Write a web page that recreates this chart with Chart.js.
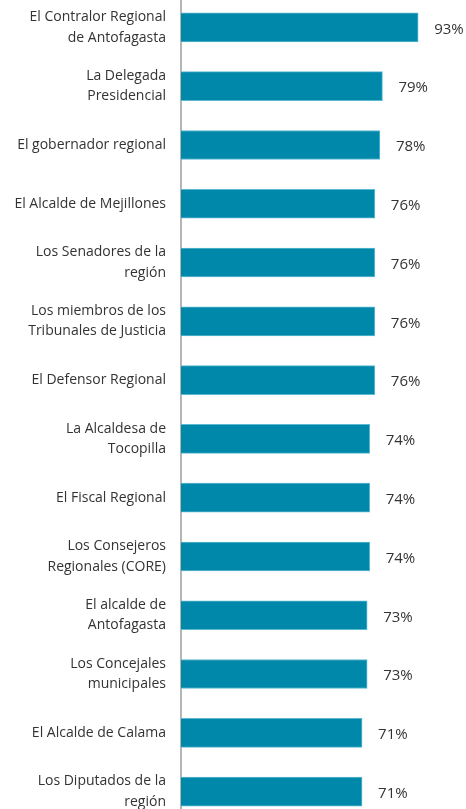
<!DOCTYPE html>
<html>
<head>
<meta charset="utf-8">
<script src="https://cdn.jsdelivr.net/npm/chart.js@4"></script>
<style>
  html, body { margin: 0; padding: 0; background: #fff; overflow: hidden; }
  #wrap { position: relative; width: 466px; height: 823px; margin-top: -2px; }
</style>
</head>
<body>
<div id="wrap"><canvas id="chart"></canvas></div>
<script>
// categorias (etiquetas en varias lineas)
const categories = [
  ["El Contralor Regional", "de Antofagasta"],
  ["La Delegada", "Presidencial"],
  "El gobernador regional",
  "El Alcalde de Mejillones",
  ["Los Senadores de la", "región"],
  ["Los miembros de los", "Tribunales de Justicia"],
  "El Defensor Regional",
  ["La Alcaldesa de", "Tocopilla"],
  "El Fiscal Regional",
  ["Los Consejeros", "Regionales (CORE)"],
  ["El alcalde de", "Antofagasta"],
  ["Los Concejales", "municipales"],
  "El Alcalde de Calama",
  ["Los Diputados de la", "región"]
];

// porcentajes
const values = [93, 79, 78, 76, 76, 76, 76, 74, 74, 74, 73, 73, 71, 71];

const fontFamily = "'Open Sans', 'DejaVu Sans', sans-serif";

// etiquetas de valor a la derecha de cada barra
const valueLabels = {
  id: "valueLabels",
  afterDatasetsDraw(chart) {
    const ctx = chart.ctx;
    const meta = chart.getDatasetMeta(0);
    ctx.save();
    ctx.fillStyle = "#333333";
    ctx.font = "15px " + fontFamily;
    ctx.textAlign = "left";
    ctx.textBaseline = "middle";
    meta.data.forEach((bar, i) => {
      ctx.fillText(values[i] + "%", bar.x + 16, bar.y + 2);
    });
    ctx.restore();
  }
};

new Chart(document.getElementById("chart"), {
  type: "bar",
  data: {
    labels: categories,
    datasets: [
      {
        data: values,
        backgroundColor: "#0088aa",
        borderColor: "#5cb9d2",
        borderWidth: 1,
        barThickness: 29
      }
    ]
  },
  options: {
    indexAxis: "y",
    responsive: true,
    maintainAspectRatio: false,
    animation: false,
    layout: { padding: { left: 0, right: 30, top: 0, bottom: 0 } },
    scales: {
      x: {
        display: false,
        min: 0,
        max: 100
      },
      y: {
        grid: { display: false, drawTicks: false },
        border: { display: true, color: "#b5b5b5", width: 2 },
        ticks: {
          color: "#333333",
          padding: 15,
          font: { family: fontFamily, size: 14, lineHeight: 1.45 }
        },
        afterFit(scale) {
          scale.width = 181;
          scale.paddingTop = 0;
          scale.paddingBottom = 0;
        }
      }
    },
    plugins: {
      legend: { display: false },
      tooltip: { enabled: false }
    }
  },
  plugins: [valueLabels]
});
</script>
</body>
</html>
